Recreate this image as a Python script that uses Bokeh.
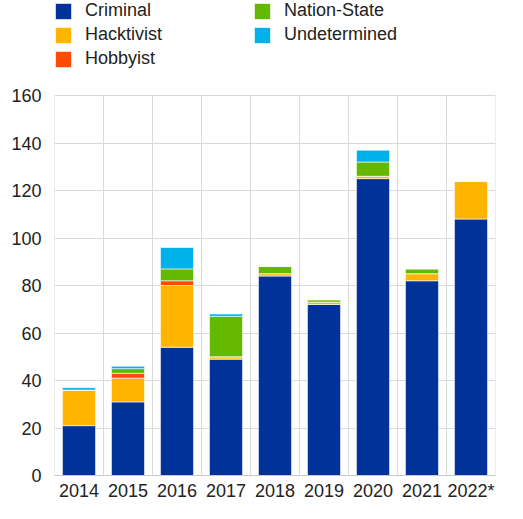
from bokeh.plotting import figure
from bokeh.models import Legend, LegendItem, FixedTicker, ColumnDataSource, CustomJSTickFormatter
from bokeh.embed import file_html
from bokeh.resources import INLINE

years = ["2014", "2015", "2016", "2017", "2018", "2019", "2020", "2021", "2022"]
criminal = [21, 31, 54, 49, 84, 72, 125, 82, 108]
hacktivist = [15, 10, 26, 1, 1, 1, 1, 3, 16]
hobbyist = [0, 2, 2, 0, 0, 0, 0, 0, 0]
nation_state = [0, 2, 5, 17, 3, 1, 6, 2, 0]
undetermined = [1, 1, 9, 1, 0, 0, 5, 0, 0]
series = ["Criminal", "Hacktivist", "Hobbyist", "Nation-State", "Undetermined"]
colors = ["#003299", "#FFB400", "#FF4B00", "#65B800", "#00B1EA"]
y_ticks = [0, 20, 40, 60, 80, 100, 120, 140, 160]
footnote_year = "2022"
footnote_mark = "*"

source = ColumnDataSource(dict(year=years, Criminal=criminal, Hacktivist=hacktivist,
                               Hobbyist=hobbyist, **{"Nation-State": nation_state},
                               Undetermined=undetermined))

FONT = "Liberation Sans"
TXT = "#222222"
GRID = "#d9d9d9"

# frame reaches the top of the figure so the legend (inside the frame) is not clipped;
# the value axis only shows 0-160, the rest of the range is room for the legend
p = figure(x_range=years, y_range=(0, 200), width=507, height=503,
           output_backend="svg", toolbar_location=None,
           min_border_left=54, min_border_right=12, min_border_top=0, min_border_bottom=26)
p.outline_line_color = None
p.background_fill_color = "white"
p.border_fill_color = "white"

# vertical separators between the year bands (from 0 to the top tick)
bounds = list(range(len(years) + 1))
sep = p.segment(x0=bounds, y0=[y_ticks[0]] * len(bounds), x1=bounds,
                y1=[y_ticks[-1]] * len(bounds), line_color=GRID, line_width=1)
sep.level = "underlay"

renderers = p.vbar_stack(series, x="year", width=0.675, color=colors, source=source,
                         line_color="white", line_width=1, line_alpha=0.6)

# grids
p.xgrid.grid_line_color = None
p.ygrid.grid_line_color = GRID
p.ygrid.ticker = FixedTicker(ticks=y_ticks)

# y axis
p.yaxis.ticker = FixedTicker(ticks=y_ticks)
p.yaxis.axis_line_color = None
p.yaxis.major_tick_line_color = None
p.yaxis.minor_tick_line_color = None
p.yaxis.major_tick_out = 0
p.yaxis.major_tick_in = 0
p.yaxis.major_label_standoff = 13
p.yaxis.major_label_text_font = FONT
p.yaxis.major_label_text_font_size = "18px"
p.yaxis.major_label_text_color = TXT

# x axis
p.xaxis.axis_line_color = "#c8c8c8"
p.xaxis.major_tick_line_color = None
p.xaxis.minor_tick_line_color = None
p.xaxis.major_tick_out = 0
p.xaxis.major_tick_in = 0
p.xaxis.major_label_standoff = 5
p.xaxis.major_label_text_font = FONT
p.xaxis.major_label_text_font_size = "18px"
p.xaxis.major_label_text_color = TXT
p.xaxis.formatter = CustomJSTickFormatter(
    args=dict(fy=footnote_year, fm=footnote_mark),
    code="return (String(tick) == fy) ? String(tick) + fm : String(tick);")

legend = Legend(items=[LegendItem(label=s, renderers=[r]) for s, r in zip(series, renderers)],
                nrows=3, orientation="vertical", location=(-1, 406),
                glyph_width=20, glyph_height=20, label_standoff=12, label_width=164,
                label_height=16, spacing=3, padding=0, margin=0,
                border_line_color=None, background_fill_alpha=0,
                label_text_font=FONT, label_text_font_size="18px", label_text_color=TXT)
p.add_layout(legend)

open("out.html", "w").write(file_html(p, INLINE))
